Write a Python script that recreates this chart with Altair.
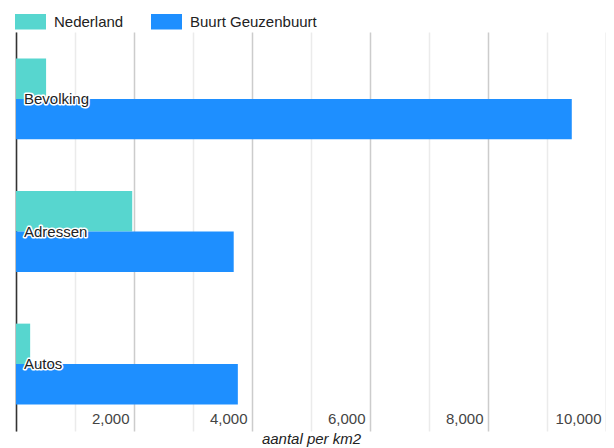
import altair as alt
import pandas as pd

categories = ["Bevolking", "Adressen", "Autos"]
series = ["Nederland", "Buurt Geuzenbuurt"]
nederland = [510, 1970, 240]
buurt = [9420, 3690, 3760]
colors = ["#57d6cf", "#1e8fff"]
tick_values = [0, 1000, 2000, 3000, 4000, 5000, 6000, 7000, 8000, 9000, 10000]

rows = []
for c, n, b in zip(categories, nederland, buurt):
    rows.append({"cat": c, "serie": series[0], "waarde": n})
    rows.append({"cat": c, "serie": series[1], "waarde": b})
df = pd.DataFrame(rows)
lab = pd.DataFrame({"cat": categories, "x0": [0] * len(categories)})

FONT = "Liberation Sans"
FS = 15
xscale = alt.Scale(domain=[0, 10000], nice=False)
yscale = alt.Scale(domain=categories, paddingInner=0.39, paddingOuter=0.2)

xaxis = alt.Axis(
    values=tick_values,
    grid=True,
    gridColor={"condition": {"test": "datum.value % 2000 == 0", "value": "#cccccc"}, "value": "#ebebeb"},
    gridWidth=1.5,
    domain=False,
    ticks=False,
    labelExpr="datum.value % 2000 == 0 && datum.value > 0 ? format(datum.value, ',') : ''",
    labelAlign="right",
    labelBaseline="middle",
    labelPadding=-13,
    labelOffset=-5,
    labelFont=FONT,
    labelFontSize=FS,
    labelColor="#444444",
    title="aantal per km2",
    titleFont=FONT,
    titleFontSize=FS,
    titleFontStyle="italic",
    titleFontWeight="normal",
    titleColor="#222222",
    titlePadding=0,
)

bars = alt.Chart(df).mark_bar().encode(
    x=alt.X("waarde:Q", scale=xscale, axis=xaxis),
    y=alt.Y("cat:N", scale=yscale, sort=categories,
            axis=alt.Axis(labels=False, ticks=False, title=None, grid=False,
                          domainColor="#333333", domainWidth=1.5)),
    yOffset=alt.YOffset("serie:N", sort=series, scale=alt.Scale(domain=series, paddingInner=0, paddingOuter=0)),
    color=alt.Color("serie:N", sort=series, scale=alt.Scale(domain=series, range=colors),
                    legend=alt.Legend(
                        orient="none", direction="horizontal", legendX=-1, legendY=-26,
                        title=None, symbolType="M-1,-0.5H1V0.5H-1Z", symbolSize=961,
                        symbolStrokeWidth=0, symbolOpacity=1,
                        labelFont=FONT, labelFontSize=FS, labelColor="#222222",
                        labelOffset=8, columnPadding=27, padding=0)),
)

halo = alt.Chart(lab).mark_text(
    align="left", baseline="middle", dx=8, font=FONT, fontSize=FS,
    stroke="white", strokeWidth=3, strokeJoin="round", fill="white"
).encode(x=alt.X("x0:Q", scale=xscale), y=alt.Y("cat:N", scale=yscale, sort=categories), text="cat:N")

labels = alt.Chart(lab).mark_text(
    align="left", baseline="middle", dx=8, font=FONT, fontSize=FS, fill="#222222"
).encode(x=alt.X("x0:Q", scale=xscale), y=alt.Y("cat:N", scale=yscale, sort=categories), text="cat:N")

chart = alt.layer(bars, halo, labels).properties(
    width=590, height=399,
    autosize=alt.AutoSizeParams(type="none"),
    padding={"left": 8, "top": 24, "right": 0, "bottom": 20},
    background="white",
).configure_view(stroke=None)

chart.save("out.html", embed_options={"renderer": "svg", "actions": False})
